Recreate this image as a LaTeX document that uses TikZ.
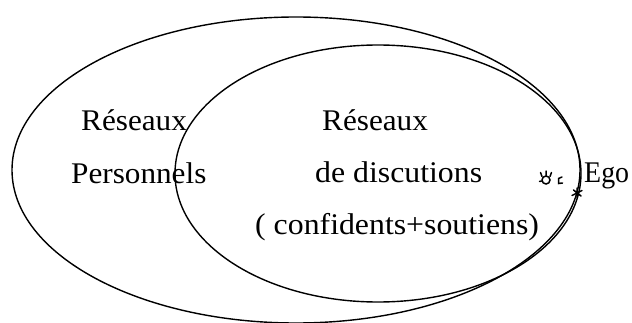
\documentclass[tikz,border=0pt]{standalone}
\usepackage{fontspec}
\setmainfont{Liberation Serif}
\usetikzlibrary{shapes.geometric}
\begin{document}
\begin{tikzpicture}[x=1pt,y=1pt,
  ell/.style={draw=black,line width=1.4pt,ellipse,inner sep=0pt,outer sep=0pt},
  lbl/.style={inner sep=0pt,anchor=base west,font=\fontsize{30}{36}\selectfont},
  icon/.style={line width=1.5pt,line cap=round}]
\useasboundingbox (0,0) rectangle (632,322);
% outer ellipse (Reseaux personnels)
\node[ell,minimum width=568pt,minimum height=306pt] (outer) at (296,152) {};
% inner ellipse (Reseaux de discutions)
\node[ell,minimum width=406pt,minimum height=257pt] (inner) at (378,148.5) {};
% labels
\node[lbl] (r1) at (81,192) {\scalebox{1.04}[1]{Réseaux}};
\node[lbl] (p1) at (71,139) {\scalebox{1.04}[1]{Personnels}};
\node[lbl] (r2) at (322,192) {\scalebox{1.04}[1]{Réseaux}};
\node[lbl] (d2) at (315,140) {\scalebox{1.06}[1]{de discutions}};
\node[lbl] (c2) at (255,88) {\scalebox{1.06}[1]{( confidents+soutiens)}};
\node[lbl] (ego) at (584,140) {\scalebox{0.93}[1]{Ego}};
% small ego figure
\draw[icon] (546,142) circle [radius=4];
\draw[icon] (542,145.5) -- (540.5,149.5) (550,145.5) -- (551.5,149.5) (546,146.5) -- (546,151) (541.5,141) -- (539.5,140.5);
\draw[icon] (562,145) -- (558.5,143.5) -- (558.5,138.5) -- (562.5,139);
\draw[icon] (572,126.5) -- (582,131.5) (573.5,132) -- (581,126) (577,134) -- (577,124.5);
\end{tikzpicture}
\end{document}
